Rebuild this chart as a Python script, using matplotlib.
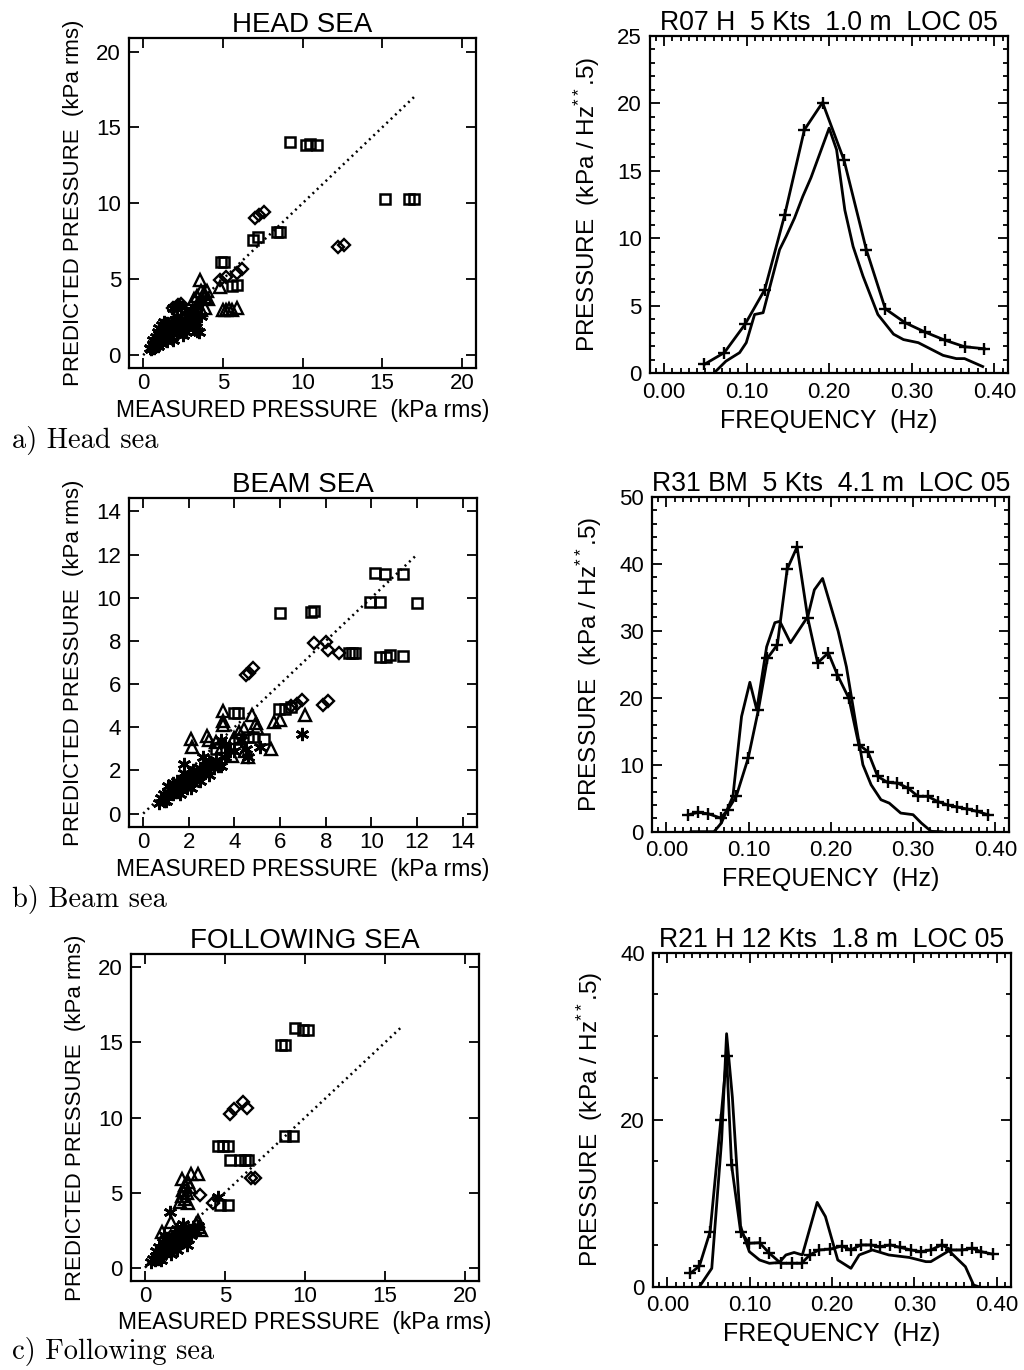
import matplotlib
matplotlib.use("Agg")
import matplotlib.pyplot as plt
from matplotlib.ticker import MultipleLocator

plt.rcParams['font.family'] = ['Liberation Sans', 'DejaVu Sans']
plt.rcParams['mathtext.fontset'] = 'custom'
plt.rcParams['mathtext.rm'] = 'Liberation Sans'
plt.rcParams['mathtext.it'] = 'Liberation Sans'

# ---------------- data: HEAD SEA scatter ----------------
head_sq_x = [9.2, 10.2, 10.5, 10.9, 15.2, 16.7, 17.0, 8.4, 8.6, 6.9, 7.2, 4.9, 5.1, 5.6, 5.9]
head_sq_y = [14.05, 13.85, 13.9, 13.85, 10.3, 10.3, 10.3, 8.1, 8.1, 7.6, 7.75, 6.15, 6.15, 4.55, 4.6]
head_dm_x = [7.0, 7.3, 7.6, 12.2, 12.6, 5.9, 6.2, 5.2, 4.8, 1.9, 2.2, 2.4]
head_dm_y = [9.0, 9.2, 9.45, 7.15, 7.25, 5.4, 5.7, 5.15, 4.95, 3.1, 3.3, 3.35]
head_tr_x = [3.55, 4.8, 5.0, 5.2, 5.4, 5.6, 5.9, 3.2, 3.4, 3.6, 3.8, 3.9, 4.0, 4.1, 3.3, 3.6, 3.9]
head_tr_y = [4.95, 4.5, 3.0, 3.0, 3.05, 3.0, 3.1, 3.7, 3.9, 4.2, 4.1, 3.8, 4.2, 3.7, 3.2, 3.0, 3.1]
head_as_x = [0.4, 0.5, 0.6, 0.7, 0.8, 0.8, 0.9, 0.9, 1.0, 1.0, 1.1, 1.1, 1.2, 1.2, 1.3, 1.4, 1.4, 1.5,
             1.5, 1.6, 1.7, 1.7, 1.8, 1.8, 1.9, 2.0, 2.0, 2.1, 2.2, 2.3, 2.4, 2.5, 2.6, 2.7, 2.8, 2.9,
             3.0, 3.1, 3.2, 3.3, 3.4, 3.5, 3.6, 2.2, 2.4, 1.9, 0.6, 1.3, 3.0, 2.6, 3.3, 1.0, 1.6,
             2.1, 2.8, 3.4, 3.7, 1.2, 2.5]
head_as_y = [0.5, 0.4, 0.7, 0.5, 0.9, 1.2, 0.6, 1.5, 1.0, 1.8, 1.3, 0.8, 2.0, 1.6, 1.1, 1.9, 1.4, 0.9,
             2.1, 1.6, 1.2, 1.9, 2.2, 1.5, 1.0, 1.8, 2.3, 1.4, 2.0, 1.6, 2.4, 1.9, 2.2, 1.5, 2.6, 2.0,
             2.4, 1.8, 2.9, 2.2, 1.6, 1.5, 2.6, 3.3, 3.2, 3.1, 1.0, 2.2, 3.0, 2.8, 2.7, 1.4, 1.2,
             2.6, 1.8, 3.2, 3.5, 0.9, 1.3]

# ---------------- data: BEAM SEA scatter ----------------
beam_sq_x = [10.15, 10.6, 11.4, 9.95, 10.4, 12.0, 6.0, 7.35, 7.5, 9.0, 9.15, 9.3, 10.4, 10.65, 10.8,
             11.4, 5.95, 6.2, 6.5, 4.0, 4.15, 3.2, 4.2, 4.6, 4.8, 5.3]
beam_sq_y = [11.15, 11.1, 11.1, 9.8, 9.8, 9.75, 9.3, 9.35, 9.4, 7.45, 7.45, 7.45, 7.25, 7.25, 7.35,
             7.3, 4.85, 4.85, 4.95, 4.65, 4.65, 3.0, 3.45, 3.55, 3.55, 3.45]
beam_dm_x = [7.5, 8.0, 8.1, 8.6, 4.5, 4.65, 4.8, 6.95, 6.5, 6.75, 7.9, 8.1]
beam_dm_y = [7.9, 7.95, 7.6, 7.45, 6.4, 6.5, 6.75, 5.25, 5.0, 5.1, 5.05, 5.2]
beam_tr_x = [3.5, 3.5, 3.5, 2.1, 2.15, 2.8, 4.75, 4.95, 5.75, 6.0, 7.1, 3.9, 4.45, 4.6, 5.6, 4.2,
             4.4, 3.45, 2.9, 3.2, 4.0, 5.0]
beam_tr_y = [4.75, 4.3, 4.1, 3.45, 3.1, 3.6, 4.55, 4.2, 4.25, 4.35, 4.55, 2.65, 2.9, 2.6, 3.0, 3.8,
             3.9, 3.1, 3.4, 3.3, 3.5, 3.95]
beam_as_x = [6.95, 0.7, 0.8, 0.9, 0.9, 1.0, 1.1, 1.1, 1.2, 1.3, 1.3, 1.4, 1.5, 1.5, 1.6, 1.7, 1.7,
             1.8, 1.8, 1.9, 2.0, 2.0, 2.1, 2.2, 2.2, 2.3, 2.4, 2.5, 2.5, 2.6, 2.7, 2.8, 2.9, 3.0,
             3.1, 3.2, 3.3, 3.4, 1.8, 3.4, 4.6, 5.1, 4.3, 3.6, 3.8, 4.5, 2.6, 1.6, 1.0, 1.4,
             2.1, 2.9, 3.6, 4.0]
beam_as_y = [3.7, 0.5, 0.7, 0.6, 0.9, 0.8, 1.0, 1.3, 1.1, 0.9, 1.4, 1.2, 1.0, 1.5, 1.3, 1.1, 1.6,
             1.4, 1.9, 1.2, 1.5, 1.8, 1.7, 1.4, 2.0, 1.6, 1.8, 1.5, 2.1, 1.9, 2.2, 2.0, 1.8, 2.3,
             2.1, 2.5, 2.2, 2.2, 2.3, 3.4, 2.6, 3.1, 3.4, 3.2, 2.9, 3.0, 2.6, 0.9, 0.6, 1.0,
             1.2, 2.4, 2.6, 2.9]

# ---------------- data: FOLLOWING SEA scatter ----------------
foll_sq_x = [9.35, 9.85, 10.2, 8.5, 8.75, 8.75, 9.25, 4.55, 4.9, 5.2, 5.3, 5.95, 6.25, 6.45, 4.7, 5.2]
foll_sq_y = [15.95, 15.85, 15.85, 14.85, 14.85, 8.8, 8.8, 8.1, 8.1, 8.1, 7.2, 7.2, 7.2, 7.2, 4.15, 4.15]
foll_dm_x = [5.3, 5.55, 6.1, 6.35, 6.6, 6.85, 3.45, 4.25]
foll_dm_y = [10.25, 10.55, 11.0, 10.6, 6.0, 5.95, 4.85, 4.3]
foll_tr_x = [2.9, 3.3, 2.2, 2.3, 2.4, 2.5, 2.6, 2.7, 2.8, 2.3, 2.5, 2.7, 1.05, 1.65, 3.4, 3.3, 3.5, 3.2]
foll_tr_y = [6.25, 6.25, 4.4, 4.8, 5.2, 5.5, 5.0, 5.7, 5.4, 5.9, 4.6, 4.3, 2.4, 3.05, 2.7, 3.1, 2.5, 2.9]
foll_as_x = [1.55, 4.55, 0.4, 0.5, 0.6, 0.7, 0.8, 0.9, 0.9, 1.0, 1.1, 1.1, 1.2, 1.3, 1.3, 1.4, 1.5,
             1.5, 1.6, 1.7, 1.7, 1.8, 1.9, 1.9, 2.0, 2.1, 2.2, 2.2, 2.3, 2.4, 2.5, 2.6, 2.7, 2.8,
             2.9, 3.0, 1.2, 2.0, 2.4, 3.1, 3.3, 0.7, 1.0, 1.6, 2.0, 2.6]
foll_as_y = [3.7, 4.7, 0.4, 0.6, 0.5, 0.8, 0.6, 1.0, 1.4, 0.8, 1.2, 1.7, 1.0, 1.5, 2.0, 1.3, 1.1,
             1.8, 1.5, 2.1, 1.2, 1.7, 2.3, 1.4, 2.0, 1.6, 2.4, 1.9, 2.2, 1.7, 2.0, 2.3, 1.9, 2.5,
             2.2, 2.7, 2.2, 2.6, 2.9, 2.4, 2.8, 1.1, 0.5, 0.9, 1.2, 1.5]

# ---------------- data: spectra ----------------
r07_f_plus = [0.049, 0.073, 0.098, 0.122, 0.146, 0.170, 0.192, 0.218, 0.245, 0.268, 0.292, 0.316, 0.340, 0.364, 0.388]
r07_p_plus = [0.67, 1.53, 3.62, 6.2, 11.7, 18.05, 20.07, 15.8, 9.17, 4.78, 3.75, 3.06, 2.46, 1.97, 1.82]
r07_f_line = [0.061, 0.075, 0.0915, 0.0996, 0.1097, 0.120, 0.140, 0.148, 0.158, 0.168, 0.178, 0.200,
              0.209, 0.219, 0.229, 0.241, 0.259, 0.278, 0.290, 0.308, 0.338, 0.354, 0.364, 0.386]
r07_p_line = [0.05, 0.9, 1.53, 2.27, 4.36, 4.49, 9.17, 10.16, 11.5, 13.1, 14.5, 18.17,
              16.57, 12.1, 9.4, 7.2, 4.36, 2.9, 2.5, 2.27, 1.33, 1.09, 1.09, 0.5]

r31_f_plus = [0.027, 0.039, 0.051, 0.066, 0.075, 0.085, 0.0996, 0.112, 0.123, 0.135, 0.147, 0.159,
              0.172, 0.184, 0.197, 0.208, 0.222, 0.234, 0.245, 0.257, 0.269, 0.281, 0.294, 0.306,
              0.318, 0.330, 0.342, 0.354, 0.366, 0.378, 0.391]
r31_p_plus = [2.54, 2.88, 2.68, 2.04, 3.28, 5.27, 10.99, 18.2, 25.9, 27.9, 39.2, 42.5,
              31.9, 25.2, 26.7, 23.4, 19.9, 13.0, 11.97, 8.25, 7.36, 7.26, 6.5, 5.27,
              5.27, 4.5, 4.0, 3.67, 3.38, 3.03, 2.54]
r31_f_line = [0.030, 0.058, 0.067, 0.081, 0.0915, 0.1016, 0.110, 0.122, 0.132, 0.138, 0.151, 0.172,
              0.180, 0.190, 0.209, 0.219, 0.231, 0.239, 0.249, 0.261, 0.271, 0.285, 0.300, 0.310,
              0.322, 0.335]
r31_p_line = [0.0, 0.0, 1.3, 5.27, 17.2, 22.3, 18.2, 27.6, 31.2, 31.4, 28.2, 32.1,
              36.1, 37.8, 29.9, 24.6, 15.7, 10.0, 7.0, 4.77, 4.27, 2.78, 2.54, 1.3,
              0.05, 0.0]

r21_f_plus = [0.028, 0.039, 0.052, 0.065, 0.072, 0.078, 0.089, 0.0996, 0.112, 0.124, 0.138, 0.151,
              0.163, 0.173, 0.184, 0.198, 0.212, 0.223, 0.235, 0.247, 0.258, 0.271, 0.283, 0.296,
              0.308, 0.320, 0.333, 0.345, 0.358, 0.370, 0.381, 0.395]
r21_p_plus = [1.6, 2.48, 6.6, 20.0, 27.6, 14.6, 6.6, 5.2, 5.27, 4.0, 2.8, 2.8,
              2.8, 3.8, 4.4, 4.5, 4.87, 4.4, 5.0, 5.0, 4.8, 5.0, 4.7, 4.4,
              4.2, 4.4, 5.0, 4.4, 4.4, 4.6, 4.2, 3.9]
r21_f_line = [0.039, 0.054, 0.066, 0.072, 0.079, 0.089, 0.0996, 0.112, 0.124, 0.136, 0.144, 0.154,
              0.164, 0.182, 0.192, 0.207, 0.223, 0.233, 0.249, 0.269, 0.294, 0.314, 0.320, 0.342,
              0.362, 0.372, 0.378]
r21_p_line = [0.0, 2.2, 17.6, 30.3, 22.7, 7.2, 4.2, 3.2, 2.8, 2.9, 3.8, 4.1,
              3.8, 10.1, 8.4, 3.2, 2.2, 3.8, 4.4, 3.8, 3.5, 3.0, 3.0, 4.3,
              2.4, 0.2, 0.0]

scatter_titles = ["HEAD SEA", "BEAM SEA", "FOLLOWING SEA"]
spec_titles = ["R07 H  5 Kts  1.0 m  LOC 05", "R31 BM  5 Kts  4.1 m  LOC 05", "R21 H 12 Kts  1.8 m  LOC 05"]
panel_labels = ["a) Head sea", "b) Beam sea", "c) Following sea"]

W, H = 1024, 1370
fig = plt.figure(figsize=(W / 100, H / 100), dpi=100)


def px_axes(l, r, t, b):
    return fig.add_axes([l / W, 1 - b / H, (r - l) / W, (b - t) / H])


def style(ax, xpad, ypad):
    for s in ax.spines.values():
        s.set_linewidth(1.6)
    ax.tick_params(which='both', direction='in', top=True, right=True, width=1.3, labelsize=16)
    ax.tick_params(axis='x', pad=xpad)
    ax.tick_params(axis='y', pad=ypad)
    ax.tick_params(which='major', length=7)
    ax.tick_params(which='minor', length=3.5)


TS = 20
aster = (6, 2, 0)


def scatter_panel(ax, lim, step, diag, sqx, sqy, dmx, dmy, trx, tr_y, asx, asy, title):
    style(ax, 3.5, 6)
    ax.plot([0, diag], [0, diag], color='black', lw=1.8, linestyle=(0, (0.8, 1.6)))
    ax.plot(asx, asy, linestyle='none', marker=aster, ms=9.5, mew=1.9, color='black')
    ax.plot(trx, tr_y, linestyle='none', marker='^', ms=8.5, mfc='none', mec='black', mew=1.7)
    ax.plot(dmx, dmy, linestyle='none', marker='D', ms=6.5, mfc='none', mec='black', mew=1.7)
    ax.plot(sqx, sqy, linestyle='none', marker='s', ms=7.5, mfc='none', mec='black', mew=1.8)
    m = lim * 0.0435
    ax.set_xlim(-m, lim + m)
    ax.set_ylim(-m, lim + m)
    ax.xaxis.set_major_locator(MultipleLocator(step))
    ax.yaxis.set_major_locator(MultipleLocator(step))
    ax.set_title(title, fontsize=TS, pad=4)
    ax.set_xlabel("MEASURED PRESSURE  (kPa rms)", fontsize=16.5)
    ax.set_ylabel("PREDICTED PRESSURE  (kPa rms)", fontsize=16)
    ax.xaxis.set_label_coords(0.5, -0.094)
    ax.yaxis.set_label_coords(-0.13, 0.5)


def spec_panel(ax, fp, pp, fl, pl, ymax, ymajor, yminor, title):
    style(ax, 6, 6)
    ax.plot(fl, pl, color='black', lw=2.0)
    ax.plot(fp, pp, color='black', lw=2.0, marker='+', ms=9, mew=1.7)
    ax.set_xlim(-0.017, 0.417)
    ax.set_ylim(0, ymax)
    ax.xaxis.set_major_locator(MultipleLocator(0.1))
    ax.xaxis.set_minor_locator(MultipleLocator(0.01))
    ax.yaxis.set_major_locator(MultipleLocator(ymajor))
    ax.yaxis.set_minor_locator(MultipleLocator(yminor))
    ax.xaxis.set_major_formatter(plt.FuncFormatter(lambda v, p: f"{v:.2f}"))
    ax.set_title(title, fontsize=19.2, pad=4)
    ax.set_xlabel("FREQUENCY  (Hz)", fontsize=18)
    ax.set_ylabel(r"PRESSURE  (kPa / Hz$^{**}$.5)", fontsize=17.5)
    ax.xaxis.set_label_coords(0.5, -0.105)
    ax.yaxis.set_label_coords(-0.135, 0.5)


ax1 = px_axes(129.3, 475.7, 38.3, 368.3)
scatter_panel(ax1, 20, 5, 17, head_sq_x, head_sq_y, head_dm_x, head_dm_y, head_tr_x, head_tr_y,
              head_as_x, head_as_y, scatter_titles[0])
ax2 = px_axes(650, 1008.3, 36, 373.3)
spec_panel(ax2, r07_f_plus, r07_p_plus, r07_f_line, r07_p_line, 25, 5, 1, spec_titles[0])

ax3 = px_axes(129.3, 476.5, 498.3, 826.7)
scatter_panel(ax3, 14, 2, 12, beam_sq_x, beam_sq_y, beam_dm_x, beam_dm_y, beam_tr_x, beam_tr_y,
              beam_as_x, beam_as_y, scatter_titles[1])
ax4 = px_axes(652.3, 1009.3, 496.7, 831.7)
spec_panel(ax4, r31_f_plus, r31_p_plus, r31_f_line, r31_p_line, 50, 10, 2, spec_titles[1])

ax5 = px_axes(131, 479, 954.3, 1280.7)
scatter_panel(ax5, 20, 5, 16, foll_sq_x, foll_sq_y, foll_dm_x, foll_dm_y, foll_tr_x, foll_tr_y,
              foll_as_x, foll_as_y, scatter_titles[2])
ax6 = px_axes(653.3, 1010.7, 952.7, 1286.7)
spec_panel(ax6, r21_f_plus, r21_p_plus, r21_f_line, r21_p_line, 40, 20, 5, spec_titles[2])

for lab, base in zip(panel_labels, [448, 906.7, 1359]):
    fig.text(12 / W, 1 - base / H, lab, fontsize=20.5, family=['cmr10', 'DejaVu Serif'],
             va='baseline', ha='left')

fig.savefig("out.png", dpi=100)
